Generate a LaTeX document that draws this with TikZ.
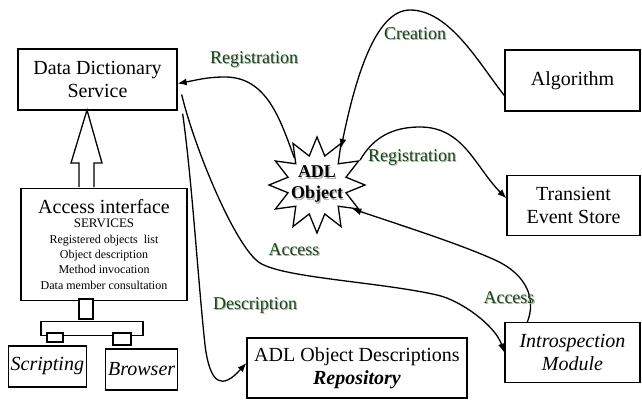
\documentclass[tikz,border=0pt]{standalone}
\usepackage{fontspec}
\setmainfont{Liberation Serif}
\usetikzlibrary{shapes,arrows.meta}
\usetikzlibrary{positioning}
\definecolor{labelgreen}{RGB}{20,72,20}
\definecolor{shadegray}{RGB}{175,175,175}
\newcommand{\shadowed}[2][black]{\rlap{\kern1.2pt\raisebox{-1.2pt}{\color{shadegray}#2}}{\color{#1}#2}}
\tikzset{
    box/.style={rectangle,draw=black,line width=1.3pt,text centered,align=center,inner sep=0pt,font=\fontsize{20}{23}\selectfont},
    flow/.style={line width=1.3pt},
    flowlabel/.style={inner sep=0pt,font=\fontsize{18}{20}\selectfont},
    part/.style={draw=black,line width=1.3pt,fill=white},
}

\begin{document}
\begin{tikzpicture}[x=1pt,y=1pt,>={Latex[length=9pt,width=7pt]}]
\useasboundingbox (0,0) rectangle (642,400);
\node[box,minimum width=159pt,minimum height=61pt] (dds) at (97.5,320.5) {Data Dictionary\\Service};
\node[box,minimum width=166pt,minimum height=112pt,below=77pt of dds,xshift=6.5pt,font=\fontsize{12}{15}\selectfont] (access)
    {{\fontsize{20}{22}\selectfont Access interface}\\[-1pt]
     {\fontsize{13}{17}\selectfont SERVICES}\\[1pt]
     Registered objects\ \ list\\ Object description\\ Method invocation\\[1pt] Data member consultation};
\node[box,minimum width=102pt,minimum height=14pt,below=20pt of access,xshift=-12pt] (bar) {};
\node[box,minimum width=78pt,minimum height=41pt,below=9pt of bar.south west,xshift=7pt] (script) {\itshape Scripting};
\node[box,minimum width=72pt,minimum height=41pt,below=12pt of bar.south east,xshift=-2pt] (browser) {\itshape Browser};
\node[box,minimum width=135pt,minimum height=61pt] (algo) at (572.5,319.5) {Algorithm};
\node[box,minimum width=133pt,minimum height=60pt,below=63pt of algo,xshift=1pt] (store) {Transient\\Event Store};
\node[box,minimum width=135pt,minimum height=60pt,below=86pt of store,xshift=-1pt] (intro) {\itshape Introspection\\\itshape Module};
\node[box,minimum width=220pt,minimum height=60pt] (repo) at (357,32) {ADL Object Descriptions\\\textbf{\itshape Repository}};
\node[star,star points=12,star point ratio=1.6,minimum size=96pt,draw=black,line width=1.3pt,inner sep=0pt,
    label={[align=center,font=\bfseries\fontsize{18}{21}\selectfont]center:\shadowed{ADL}\\\shadowed{Object}}] (adl) at (317,215) {};

% hollow arrow and stubs
\draw[part] (79,213) -- (79,237) -- (71,237) -- (87,290) -- (102,237) -- (94,237) -- (94,213);
\draw[part] (79,81) rectangle (93,101);
\draw[part] (47,58) rectangle (63,67);
\draw[part] (113,55) rectangle (131,67);

% connectors
\draw[flow,->] (adl.130) to[out=110,in=0] (225,323) to[out=180,in=10] ([yshift=-4pt]dds.east);
\draw[flow,->] ([yshift=-15pt]algo.west) .. controls (480,335) and (450,390) .. (410,390)
    .. controls (375,390) and (355,320) .. (adl.57);
\draw[flow,->] (adl.30) to[out=60,in=180] (420,273) to[out=0,in=135] ([yshift=7pt]store.west);
\draw[flow,->] ([xshift=23pt]intro.north west) .. controls (536,100) and (528,125) .. (495,140)
    .. controls (460,156) and (400,175) .. (adl.-34);
\draw[flow,->] ([xshift=4pt,yshift=-15pt]dds.east) .. controls (195,250) and (236,152) .. (260,137)
    .. controls (284,122) and (380,118) .. (437,105) .. controls (460,100) and (495,75) .. (intro.west);
\draw[flow,->] ([xshift=5pt,yshift=-3pt]dds.south east) .. controls (192,220) and (198,120) .. (205,55)
    .. controls (210,15) and (222,10) .. ([yshift=5pt]repo.west);

% labels
\node[flowlabel] (lreg) at (254,340) {\shadowed[labelgreen]{Registration}};
\node[flowlabel] (lcre) at (415,366) {\shadowed[labelgreen]{Creation}};
\node[flowlabel] (lreg2) at (412,242) {\shadowed[labelgreen]{Registration}};
\node[flowlabel] (lacc) at (294,150) {\shadowed[labelgreen]{Access}};
\node[flowlabel] (lacc2) at (509,102) {\shadowed[labelgreen]{Access}};
\node[flowlabel] (ldesc) at (255,94) {\shadowed[labelgreen]{Description}};
\end{tikzpicture}
\end{document}
